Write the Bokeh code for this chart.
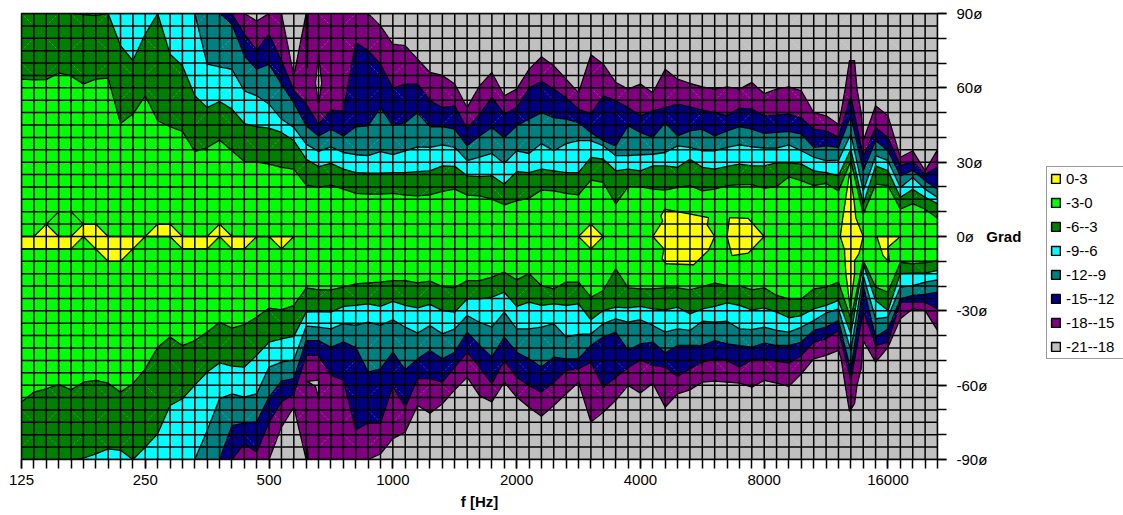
from bokeh.plotting import figure
from bokeh.layouts import row
from bokeh.models import FixedTicker, Range1d, Legend, LegendItem
from bokeh.embed import file_html
from bokeh.resources import INLINE

TICK_LABELS_X = ["125", "250", "500", "1000", "2000", "4000", "8000", "16000"]
TICK_ANGLES = [90, 60, 30, 0, -30, -60, -90]
LEVELS = ["0-3", "-3-0", "-6--3", "-9--6", "-12--9", "-15--12", "-18--15", "-21--18"]
COLORS = ["#FFFF00", "#00FF00", "#008000", "#00FFFF", "#008080", "#000080", "#800080", "#C0C0C0"]

# Angle (degrees) where each level contour is met, above and below 0, per frequency column
U3 = [63.5,63.2,63.3,66,64.8,61.5,63.5,63.9,45.6,49.4,56.8,46.7,44.3,42.4,34.3,35.9,38.9,34.6,30.3,30,29.2,27.9,27.2,20.7,19.8,
      20.7,19.1,17.4,17.1,17.1,17.4,16.7,16.4,16.8,18.2,19.1,16.7,16.4,15.1,12.8,14.4,15.5,18.7,18.4,17.4,16.8,22.8,21.8,13.1,20.1,20.1,
      19.1,18.7,19.8,20.5,18.4,19.1,20.5,20.9,20.9,19.5,20.1,24.1,22.5,20.5,21.4,18.4,30.5,9,21.1,20.5,11,13.3,11,7.4]
U6 = [90,90,90,90,90,89.6,89.2,90,77,71,81.7,90,73.6,68.9,56.8,52,54.5,51.4,45.6,44.3,43.7,42,38.7,31.2,28.2,
      29.5,27.2,25.8,25.6,25.6,25.8,25.8,26.2,26.5,28.5,28.3,24.5,24.2,24.5,21.1,26.2,25.8,27.2,26.5,25.8,25.8,31.9,31.2,26.5,27.2,26.5,
      28.5,28.5,27.9,31.2,27.9,27.2,28.3,29.2,28.5,28.5,29.7,29.7,29.2,26.5,25.8,24.5,35.2,13.1,28.5,26.5,15.8,19.1,15.8,13.3]
U9 = [90,90,90,90,90,90,90,90,90,90,90,90,90,90,90,69.6,68.5,67.5,58.8,56.8,53.4,47.4,44,37.3,34.3,
      36.2,33.9,33,32.6,34.3,33,34.6,36.2,36,37,36,30.6,32,33.5,29.5,34.6,33.5,37.5,34.6,37.5,38.7,38.7,36.6,32.6,32.6,33,
      33.2,33.9,36.6,36,34.6,34.6,36,37,36.2,35.7,35.7,37,34.6,32,30.6,30.8,41.3,18.4,32.6,30.6,19.8,23.8,19.1,15.8]
U12 = [90,90,90,90,90,90,90,90,90,90,90,90,90,90,90,90,90,85.7,73,67.5,69.6,61.5,54,44.7,40.6,
       43.3,40.6,44.3,44.7,52,44.7,46,50,44.3,44.3,43.3,36.6,40.6,44,39.9,44.7,47.4,50,48,47.4,46,42,38.7,36.6,44.7,42,
       40,46,40.6,42.6,43.3,40.6,42.6,44.3,43.3,41.6,42,42.4,41.3,36,36.6,36,48.7,26.5,38.7,34.6,24.5,26.8,22.5,19.1]
U15 = [90,90,90,90,90,90,90,90,90,90,90,90,90,90,90,90,90,90,81.7,75.2,81.7,70.9,58.8,53.4,45.3,
       51,50.7,78.3,75,69.6,59.9,61.5,61.5,54.8,52,52.7,43.3,49.4,56,49.4,52,59.9,62.6,59.5,56,51.4,49.4,56.8,54.8,52,48.7,
       50.7,52,53.4,52.3,51,50,48.7,51.8,51.4,48.7,49,49.4,47.8,43.3,42.6,40,56.8,32,44,40,28.5,30.3,25,28]
U18 = [90,90,90,90,90,90,90,90,90,90,90,90,90,90,90,90,90,90,90,87,90,90,64.8,90,90,90,90,90,90,
       85,77.6,77,71.6,66.2,65,61.5,52,60.8,66.2,56.8,59.5,67.5,72.5,68.9,63.5,58,73.3,69.6,62.2,59.5,61.5,
       58,67.5,63.5,61.8,60.4,59.5,60.4,59.5,62.2,57.7,59.5,60.4,58.8,50,48.7,45.3,71.2,38.7,52.8,48.7,32,34.6,26.5,35]

L3 = [-66.8,-62.8,-61.5,-59.7,-61.9,-58.8,-58.1,-59.2,-62.8,-59.4,-53.4,-44.7,-40.6,-44,-42,-38.6,-34.6,-37,-35.6,-32.5,-28.9,-29.6,-27.8,-20.7,-21.5,
      -21.5,-20.4,-19.1,-18.7,-18.4,-17.8,-17.8,-18.7,-18,-20.2,-20.7,-17.8,-17.8,-16.4,-14.4,-17.5,-15,-19.8,-21.1,-18.4,-18.4,-24.5,-21.8,-13,-20.7,-21.1,
      -21.1,-20.7,-20.7,-21.5,-20.2,-18.8,-19.8,-19.8,-21.5,-20.7,-23.8,-25.2,-25.2,-21.1,-20.4,-18.4,-33.2,-9.7,-20.4,-22.5,-10.4,-11,-10.6,-9.7]
L6 = [-90,-90,-90,-90,-90,-89.5,-87.7,-85.7,-86.3,-90,-85,-79.6,-68.2,-65.5,-60,-54.7,-51,-52.3,-52.7,-48,-42.6,-41.3,-40.3,-30.5,-30.3,
      -30.5,-28.2,-27.8,-27.2,-28.2,-26.2,-27.8,-28.8,-27.4,-29.9,-30.5,-25.2,-25.2,-24.5,-22.5,-28.2,-26.5,-27.8,-27.2,-27.8,-27.2,-33.6,-29.9,-28.5,-28.8,-28.2,
      -29.2,-29.6,-28.5,-31.2,-29.2,-28.2,-26.8,-27.8,-29.6,-28.8,-30.5,-32.8,-31.9,-29.2,-27.8,-25.8,-39.3,-11,-25.8,-29.9,-15,-14.8,-14.8,-13.7]
L9 = [-90,-90,-90,-90,-90,-90,-90,-90,-90,-90,-90,-90,-90,-90,-90,-78.3,-65.5,-63.5,-64.8,-63.5,-52.7,-50.7,-49.8,-36.2,-36.6,
      -37.3,-35.2,-35.9,-34.6,-35.9,-33.6,-36.6,-39,-35.9,-39.3,-37.3,-31.9,-34.6,-36.6,-30.5,-37.3,-37.3,-36.6,-35.2,-40.6,-39.5,-39.3,-35.2,-33.2,-34.6,-33.6,
      -35.9,-38.6,-37.3,-37.9,-34.2,-34.6,-34.2,-37.3,-37.6,-36.6,-37.9,-38.6,-36.6,-33.9,-30.9,-29.2,-46,-15.7,-33.2,-32.5,-20.4,-19.8,-18.4,-17.5]
L12 = [-90,-90,-90,-90,-90,-90,-90,-90,-90,-90,-90,-90,-90,-90,-90,-90,-90,-76.3,-75.3,-74.9,-64.8,-58.4,-57.4,-42,-42,
       -44.7,-42.6,-44.7,-54.7,-53.4,-46.7,-53.8,-49.4,-46,-49.4,-46.7,-38.6,-44,-48.7,-40.6,-46.7,-49.4,-52.7,-48.7,-49.4,-49.4,-44,-40.6,-38.6,-46,-43.3,
       -42.6,-47,-44,-44,-44,-42,-43.3,-44,-44.7,-43,-44,-44,-42.6,-37.9,-36.6,-33.9,-54,-19.8,-40.6,-37.3,-25.2,-23.8,-23.4,-22.5]
L15 = [-90,-90,-90,-90,-90,-90,-90,-90,-90,-90,-90,-90,-90,-90,-90,-90,-90,-90,-83.7,-87,-74.9,-66.8,-63.5,-48,-48,
       -56,-58,-78,-75.3,-75.3,-60.5,-68.9,-57.4,-57.4,-58.8,-52.7,-46.7,-52.7,-59.4,-50,-56.8,-60.1,-62.8,-58.8,-54,-53.4,-50.7,-60.8,-56.8,-53,-49.8,
       -52,-52.7,-56.5,-53.4,-50.7,-49.4,-50,-52.7,-49.8,-49.4,-50.3,-51.1,-48,-42.6,-41.3,-37.9,-58,-30,-44,-42.6,-26.5,-26.5,-26.5,-29.2]
L18 = [-90,-90,-90,-90,-90,-90,-90,-90,-90,-90,-90,-90,-90,-90,-90,-90,-90,-90,-90,-90,-90,-76.9,-68.9,-90,-90,-90,-90,-90,-90,
       -87.7,-81.6,-79,-68.2,-71.3,-67.5,-61.9,-56.8,-64.2,-66.8,-58.8,-64.8,-68.9,-72.5,-68.2,-63.5,-58.8,-74.9,-70.9,-66.2,-60.1,-63.2,
       -59.2,-68.9,-63.5,-61.9,-58.8,-58.4,-58.8,-59.2,-60.8,-58.1,-59.2,-60.5,-55.4,-49.4,-48,-46,-70.9,-42,-50.7,-44.7,-33.2,-29.2,-29.9,-37.9]

# finer vertices of the narrow resonance at column 67
SPIKE_COL = [66.2, 66.54, 66.89, 67.3, 67.5, 67.83]
SPIKE_U18 = [50, 59.5, 71, 71, 59.5, 50]
SPIKE_L18 = [-49, -60, -70.6, -67.5, -60, -53.4]

# 0..3 band near zero angle
YEL_U = [0,0,5,0,0,5,5,0,0,0,0,5,5,0,0,0,5,0,0,0,0,0,0]
YEL_L = [-5,-5,-5,-5,-5,0,-5,-10,-10,-5,0,0,0,-5,-5,-5,0,-5,-5,0,0,-5,0]
ROOF_C = [2, 3, 4, 5]
ROOF_V = [5, 10, 10, 5]

YEL_ISLANDS = [
    ([45, 46, 47, 46], [0, 5, 0, -5]),
    ([51, 51.8, 51.65, 51.95, 52.95, 54.05, 55.5, 55.4, 56, 55.5, 54.3, 52.1, 51.75, 51.9],
     [0, 6.2, 8.3, 11, 10, 9, 7.6, 4.6, 0, -5.6, -11.4, -11, -9, -5]),
    ([57, 57.2, 58.7, 60, 58.7, 57.4], [0, 7.6, 7.3, 0, -6.7, -7.7]),
    ([66.15, 66.35, 66.9, 67.25, 67.4, 68, 67.65, 67.3, 67.3, 66.95, 66.6, 66.5, 66.5],
     [0, 7.6, 25.8, 14.9, 7.6, 0, -7, -9.7, -15, -29, -15, -7.5, -5.6]),
    ([69.1, 70, 71, 70, 70.1, 69.6], [0, 0, 0, -4.3, -10.4, -7.7]),
]
# small uncovered pockets inside the -18..-15 band
GREY_ISLANDS = [
    ([23.75, 24, 24.25, 24], [62, 73.6, 62, 53.4]),
    ([23.05, 23.15, 23.1], [90, 90, 68]),
    ([23.05, 23.15, 23.1], [-90, -90, -85]),
    ([23.1, 24, 24.05, 23.75], [-58.5, -58, -66, -60.5]),
]

N = 75
for a in (U3, U6, U9, U12, U15, U18, L3, L6, L9, L12, L15, L18):
    assert len(a) == N, len(a)

cols = list(range(N))
rows = list(range(-90, 91, 5))

def band(upper, lower, extra=None):
    up = list(zip(cols, upper))
    lo = list(zip(cols, lower))
    if extra:
        up = sorted([q for q in up if q[0] != 67] + list(zip(SPIKE_COL, extra[0])))
        lo = sorted([q for q in lo if q[0] != 67] + list(zip(SPIKE_COL, extra[1])))
    xs = [q[0] for q in up] + [q[0] for q in reversed(lo)]
    ys = [q[1] for q in up] + [q[1] for q in reversed(lo)]
    return xs, ys

p = figure(width=1040, height=515, output_backend="svg", toolbar_location=None,
           x_range=Range1d(0, N - 1), y_range=Range1d(-90, 90), y_axis_location="right",
           min_border_left=21, min_border_right=103, min_border_top=13, min_border_bottom=56)
p.background_fill_color = COLORS[7]
p.border_fill_color = "white"
p.outline_line_color = "black"
p.outline_line_width = 1.5
p.grid.visible = False

LW = 1.3
kw = dict(line_color="black", line_width=LW)
p.patch([0, N - 1, N - 1, 0], [90, 90, -90, -90], fill_color=COLORS[7], **kw)
x, y = band(U18, L18, (SPIKE_U18, SPIKE_L18))
p.patch(x, y, fill_color=COLORS[6], **kw)
for cx, vy in GREY_ISLANDS:
    p.patch(cx, vy, fill_color=COLORS[7], **kw)
p.patch(*band(U15, L15), fill_color=COLORS[5], **kw)
p.patch(*band(U12, L12), fill_color=COLORS[4], **kw)
p.patch(*band(U9, L9), fill_color=COLORS[3], **kw)
p.patch(*band(U6, L6), fill_color=COLORS[2], **kw)
p.patch(*band(U3, L3), fill_color=COLORS[1], **kw)
yn = len(YEL_U)
p.patch(list(range(yn)) + list(range(yn - 1, -1, -1)), YEL_U + YEL_L[::-1], fill_color=COLORS[0], **kw)
for cx, vy in YEL_ISLANDS:
    p.patch(cx, vy, fill_color=COLORS[0], **kw)
p.line(ROOF_C, ROOF_V, **kw)

# faint diagonal seams of the surface cells
dx, dy = [], []
for c in range(0, N - 1, 2):
    for k, r in enumerate(range(-85, 90, 10)):
        up = (c // 2 + k) % 2 == 0
        dx.append([c, c + 1])
        dy.append([r, r + 5] if up else [r + 5, r])
p.multi_line(dx, dy, line_color="white", line_alpha=0.35, line_width=0.8, line_dash="2 2")

# grid above the filled areas
gx = [[c, c] for c in cols] + [[0, N - 1] for _ in rows]
gy = [[-90, 90] for _ in cols] + [[r, r] for r in rows]
p.multi_line(gx, gy, line_color="black", line_width=1.5)

ax = p.xaxis[0]
ax.ticker = FixedTicker(ticks=list(range(0, 71, 10)), minor_ticks=cols)
ax.major_label_overrides = {i * 10: t for i, t in enumerate(TICK_LABELS_X)}
ax.axis_label = "f [Hz]"
ay = p.yaxis[0]
ay.ticker = FixedTicker(ticks=TICK_ANGLES, minor_ticks=list(range(-90, 91, 10)))
ay.major_label_overrides = {a: f"{a}ø" for a in TICK_ANGLES}
ay.axis_label = "Grad"
ay.axis_label_orientation = "horizontal"
for a in (ax, ay):
    a.axis_label_text_font = "Liberation Sans"
    a.axis_label_text_font_style = "bold"
    a.axis_label_text_font_size = "15px"
    a.axis_label_text_color = "black"
    a.major_label_text_font = "Liberation Sans"
    a.major_label_text_font_size = "15px"
    a.major_label_text_color = "black"
    a.axis_line_color = "black"
    a.major_tick_line_color = "black"
    a.minor_tick_line_color = "black"
    a.major_tick_in = 0
    a.minor_tick_in = 0
    a.major_tick_out = 9
    a.minor_tick_out = 9
    a.major_tick_line_width = 1.5
    a.minor_tick_line_width = 1.5
ax.axis_label_standoff = 5
ax.major_label_standoff = 6
ay.major_label_standoff = 10
ay.axis_label_standoff = -4

# legend panel beside the chart
q = figure(width=83, height=515, output_backend="svg", toolbar_location=None,
           x_range=Range1d(1, 2), y_range=Range1d(1, 2), min_border=0)
q.axis.visible = False
q.grid.visible = False
q.outline_line_color = None
q.background_fill_color = "white"
q.border_fill_color = "white"
swatches = [q.patch([0, 0, 0], [0, 0, 0], fill_color=c, line_color="black", line_width=1.5) for c in COLORS]
items = [LegendItem(label=l, renderers=[r]) for l, r in zip(LEVELS, swatches)]
leg = Legend(items=items, location=(6, 100), orientation="vertical", margin=0, padding=3,
             spacing=7, glyph_width=11, glyph_height=11, label_height=16, label_width=56,
             label_standoff=5, label_text_font="Liberation Sans", label_text_font_size="15px",
             label_text_color="black", border_line_color="#333333", border_line_width=1,
             background_fill_alpha=1, background_fill_color="white")
q.add_layout(leg)

open("out.html", "w").write(file_html(row(p, q, spacing=0), INLINE))
